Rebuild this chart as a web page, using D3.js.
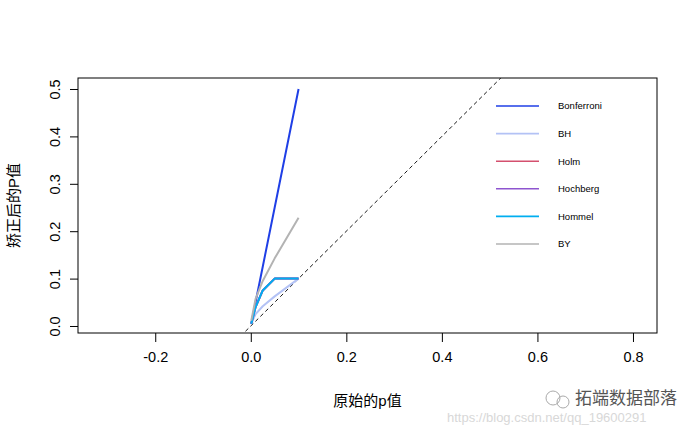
<!DOCTYPE html>
<html><head><meta charset="utf-8">
<script src="https://cdn.jsdelivr.net/npm/d3@7"></script>
<style>
body{margin:0;background:#fff;}
text{font-family:"Liberation Sans",Arial,"Noto Sans CJK SC",sans-serif;}
</style></head>
<body>
<svg id="chart" width="698" height="431"></svg>
<script>
// raw p values (x) and adjusted values per method (y)
const rawP = [0.001, 0.01, 0.025, 0.05, 0.1];
const methods = ["Bonferroni", "BH", "Holm", "Hochberg", "Hommel", "BY"];
const bonferroni = [0.005, 0.05, 0.125, 0.25, 0.5];
const bh = [0.005, 0.025, 0.0417, 0.0625, 0.1];
const holm = [0.005, 0.04, 0.075, 0.1, 0.1];
const hochberg = [0.005, 0.04, 0.075, 0.1, 0.1];
const hommel = [0.005, 0.04, 0.075, 0.1, 0.1];
const by = [0.0114, 0.0571, 0.0951, 0.1427, 0.2283];
const colors = ["#1f3fe6", "#b3c2f5", "#d4506e", "#8e55cf", "#00aef0", "#b3b3b3"];
const xTicks = [-0.2, 0.0, 0.2, 0.4, 0.6, 0.8];
const yTicks = [0.0, 0.1, 0.2, 0.3, 0.4, 0.5];
const xLabel = "原始的p值";
const yLabel = "矫正后的P值";

const series = [bonferroni, bh, holm, hochberg, hommel, by];
const fmt = d => d.toFixed(1);

const svg = d3.select("#chart");
const L = 78, R = 657, T = 78, B = 333;
const x = d3.scaleLinear().domain([-0.3617, 0.8503]).range([L, R]);
const y = d3.scaleLinear().domain([-0.01477, 0.5232]).range([B, T]);

svg.append("defs").append("clipPath").attr("id","clip")
  .append("rect").attr("x",L).attr("y",T).attr("width",R-L).attr("height",B-T);

// dashed identity line
const g = svg.append("g").attr("clip-path","url(#clip)");
g.append("line")
  .attr("x1", x(-0.5)).attr("y1", y(-0.5))
  .attr("x2", x(1)).attr("y2", y(1))
  .attr("stroke","#000").attr("stroke-width",0.9).attr("stroke-dasharray","4,3");

const line = d3.line().x((d,i)=>x(rawP[i])).y(d=>y(d));
series.forEach((s,k)=>{
  g.append("path").attr("d", line(s)).attr("fill","none")
   .attr("stroke", colors[k]).attr("stroke-width",2).attr("stroke-linejoin","round");
});

// axes
const xAxis = d3.axisBottom(x).tickValues(xTicks).tickFormat(fmt).tickSize(9).tickPadding(10);
const xg = svg.append("g").attr("transform",`translate(0,${B})`).call(xAxis);
xg.select(".domain").remove();
xg.selectAll("line").attr("stroke","#000");
xg.selectAll("text").attr("font-size",14.5).attr("fill","#000")
  .attr("font-family",'"Liberation Sans",Arial,sans-serif');

const yAxis = d3.axisLeft(y).tickValues(yTicks).tickFormat(fmt).tickSize(8);
const yg = svg.append("g").attr("transform",`translate(${L},0)`).call(yAxis);
yg.select(".domain").remove();
yg.selectAll("line").attr("stroke","#000");
yg.selectAll("text").remove();
yg.selectAll(".tick").append("text")
  .attr("transform","translate(-23,0) rotate(-90)")
  .attr("text-anchor","middle").attr("dy","0.35em")
  .attr("font-size",14.5).attr("fill","#000")
  .text(fmt);

// box
svg.append("rect").attr("x",L).attr("y",T).attr("width",R-L).attr("height",B-T)
  .attr("fill","none").attr("stroke","#000").attr("stroke-width",1);

// axis titles
svg.append("text").attr("x",(L+R)/2).attr("y",406).attr("text-anchor","middle")
  .attr("font-size",15).attr("fill","#000").text(xLabel);
svg.append("text").attr("transform",`translate(19,${(T+B)/2}) rotate(-90)`)
  .attr("text-anchor","middle").attr("font-size",15).attr("fill","#000").text(yLabel);

// legend
const lg = svg.append("g");
methods.forEach((m,k)=>{
  const yy = 106 + k*27.6;
  lg.append("line").attr("x1",496).attr("x2",539).attr("y1",yy).attr("y2",yy)
    .attr("stroke",colors[k]).attr("stroke-width",1.6);
  lg.append("text").attr("x",558).attr("y",yy).attr("dy","0.35em")
    .attr("font-size",9.5).attr("fill","#000").text(m);
});

// watermark
svg.append("text").attr("x",447).attr("y",422).attr("font-size",13)
  .attr("fill","#d8d8d8").text("https://blog.csdn.net/qq_19600291");
const wm = svg.append("g").attr("transform","translate(545,398)");
wm.append("circle").attr("cx",8).attr("cy",0).attr("r",7).attr("fill","none").attr("stroke","#aaa");
wm.append("circle").attr("cx",18).attr("cy",4).attr("r",6).attr("fill","none").attr("stroke","#aaa");
svg.append("text").attr("x",575).attr("y",404).attr("font-size",17)
  .attr("fill","#555").attr("font-family",'"Noto Sans CJK SC",sans-serif').text("拓端数据部落");
</script>
</body></html>
